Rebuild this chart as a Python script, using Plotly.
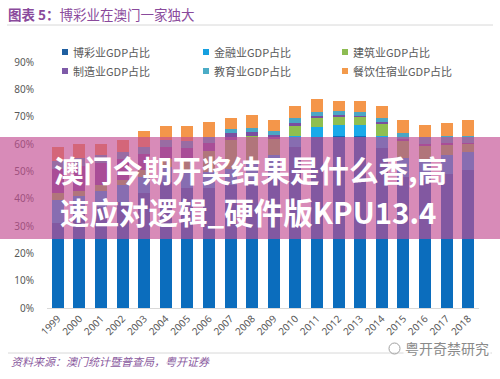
import plotly.graph_objects as go

years = [str(y) for y in range(1999, 2019)]
gaming        = [31, 35, 37, 39, 42, 46, 44, 44, 45, 47, 50, 59, 62.5, 63, 63, 58.5, 48, 47, 49, 50.5]
finance       = [8.5, 6, 6, 6, 6, 5.5, 6, 6, 6, 6, 6, 4, 3.7, 4, 4.2, 4.6, 7, 7.5, 7, 6.6]
construction  = [2.5, 2, 2, 2, 2.5, 3, 5, 7.5, 10.5, 9.9, 6, 3.7, 3.3, 3, 2.8, 4.5, 6.5, 5, 4, 3]
manufacturing = [9, 9, 8, 7.5, 6, 4.5, 3.5, 3, 2.6, 1.5, 1.5, 1, 0.8, 0.6, 0.5, 0.5, 0.5, 0.5, 0.5, 0.5]
education     = [3, 3, 3, 2.5, 2.5, 2.5, 2.5, 2, 1.5, 1.5, 1.5, 1.8, 1.5, 1.4, 1.4, 1.5, 2.2, 2.5, 2.5, 2.5]
catering      = [5, 5, 4, 4.5, 6, 5.2, 5.7, 5.5, 4, 4.8, 4, 4.5, 4.7, 4, 4.1, 4.4, 4.8, 4.5, 4.8, 5.9]

series_names = ["博彩业GDP占比", "金融业GDP占比", "建筑业GDP占比",
                "制造业GDP占比", "教育业GDP占比", "餐饮住宿业GDP占比"]
series_vals = [gaming, finance, construction, manufacturing, education, catering]
bar_colors = ["#0b6dbd", "#19aaea", "#8fbf50", "#7a4ea0", "#4ba6c4", "#f4964a"]
legend_colors = ["#1f5fa0", "#16a0e0", "#8dbc52", "#7e5aa8", "#4bacc6", "#f39a4b"]

yticks = [0, 0.1, 0.2, 0.3, 0.4, 0.5, 0.6, 0.7, 0.8, 0.9]

W, H = 500, 379
L, R, T, B = 47, 21, 35, 71
PW, PH = W - L - R, H - T - B

def px(x):
    return (x - L) / PW

def py(y):
    return (H - B - y) / PH

fig = go.Figure()
for name, vals, col in zip(series_names, series_vals, bar_colors):
    fig.add_trace(go.Bar(x=years, y=[v / 100 for v in vals], name=name,
                         marker=dict(color=col, line=dict(width=0)),
                         showlegend=False))

shapes = []
annotations = []

# legend (manual, 2 rows x 3 cols)
leg_pos = [(62, 52), (203, 52), (342, 52), (62, 71), (203, 71), (342, 71)]
for (lx, ly), name, col in zip(leg_pos, series_names, legend_colors):
    shapes.append(dict(type="rect", xref="paper", yref="paper",
                       x0=px(lx), x1=px(lx + 6), y0=py(ly + 3), y1=py(ly - 3),
                       fillcolor=col, line=dict(width=0)))
    annotations.append(dict(text=name, xref="paper", yref="paper",
                            x=px(lx + 9), y=py(ly), xanchor="left", yanchor="middle",
                            showarrow=False,
                            font=dict(size=11, color="#595959", family="Noto Sans CJK SC")))

# title + rule
annotations.append(dict(text="<b>图表 5：</b>博彩业在澳门一家独大", xref="paper", yref="paper",
                        x=px(6), y=py(14), xanchor="left", yanchor="middle", showarrow=False,
                        font=dict(size=13.5, color="#8a4a9c", family="Noto Sans CJK SC")))
shapes.append(dict(type="line", xref="paper", yref="paper", x0=px(7), x1=px(493),
                   y0=py(25), y1=py(25), line=dict(color="#d8d8d8", width=1)))

# footer
shapes.append(dict(type="line", xref="paper", yref="paper", x0=px(8), x1=px(492),
                   y0=py(353), y1=py(353), line=dict(color="#d8d8d8", width=1)))
annotations.append(dict(text="<i>资料来源：澳门统计暨普查局，粤开证券</i>", xref="paper", yref="paper",
                        x=px(9), y=py(361), xanchor="left", yanchor="middle", showarrow=False,
                        font=dict(size=11, color="#8a5a9e", family="Noto Sans CJK SC")))
annotations.append(dict(text="粤开奇禁研究", xref="paper", yref="paper",
                        x=px(403), y=py(348), xanchor="left", yanchor="middle", showarrow=False,
                        bgcolor="rgba(255,255,255,0.85)",
                        font=dict(size=14, color="#8a8a8a", family="Noto Sans CJK SC")))
shapes.append(dict(type="circle", xref="paper", yref="paper", x0=px(389), x1=px(400),
                   y0=py(354), y1=py(343), line=dict(color="#a0a0a0", width=1)))

# overlay banner
shapes.append(dict(type="rect", xref="paper", yref="paper", layer="above",
                   x0=px(0), x1=px(W), y0=py(239), y1=py(137),
                   fillcolor="rgba(195,77,146,0.65)", line=dict(width=0)))
annotations.append(dict(text="<b>澳门今期开奖结果是什么香,高</b>", xref="paper", yref="paper",
                        x=px(250), y=py(169), xanchor="center", yanchor="middle", showarrow=False,
                        font=dict(size=29.5, color="white", family="Noto Sans CJK SC")))
annotations.append(dict(text="<b>速应对逻辑_硬件版KPU13.4</b>", xref="paper", yref="paper",
                        x=px(248), y=py(211), xanchor="center", yanchor="middle", showarrow=False,
                        font=dict(size=29.5, color="white", family="Noto Sans CJK SC")))

fig.update_layout(
    width=W, height=H, barmode="stack", bargap=0.44,
    margin=dict(l=L, r=R, t=T, b=B, pad=0),
    plot_bgcolor="white", paper_bgcolor="white",
    showlegend=False,
    shapes=shapes, annotations=annotations,
    font=dict(family="Noto Sans, Noto Sans CJK SC", color="#595959"),
)
fig.update_xaxes(type="category", range=[-0.5, 19.5], showline=True, linecolor="#d9d9d9",
                 linewidth=1, ticks="", tickangle=-45, showgrid=False,
                 tickfont=dict(size=10, color="#595959", family="Noto Sans"))
fig.update_yaxes(range=[0, 1.0], tickvals=yticks, tickformat=".0%", showgrid=False,
                 zeroline=False, showline=False, ticks="outside", ticklen=10,
                 tickcolor="rgba(0,0,0,0)",
                 tickfont=dict(size=10, color="#595959", family="Noto Sans"))

fig.write_html("out.html", config={"displayModeBar": False},
               post_script="document.body.style.margin='0';document.body.style.overflow='hidden';")
